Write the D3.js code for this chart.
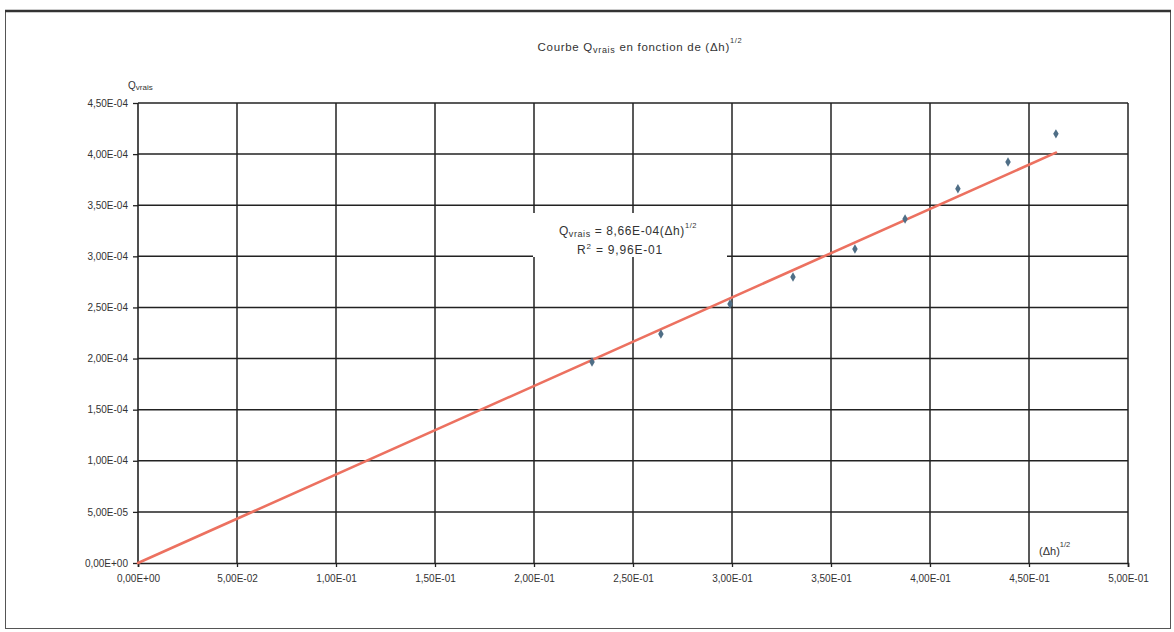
<!DOCTYPE html>
<html>
<head>
<meta charset="utf-8">
<script src="https://cdn.jsdelivr.net/npm/d3@7"></script>
<style>
  html, body { margin: 0; padding: 0; background: #fff; }
  svg { display: block; font-family: "Liberation Sans", Arial, sans-serif; }
</style>
</head>
<body>
<svg id="chart" width="1174" height="632"></svg>
<script>
// Measured points: square root of head difference vs. measured flow
const sqrtDh = [0.2293, 0.2641, 0.2990, 0.3308, 0.3621, 0.3874, 0.4141, 0.4394, 0.4636];
const qVrais = [1.967e-4, 2.241e-4, 2.534e-4, 2.798e-4, 3.072e-4, 3.366e-4, 3.660e-4, 3.924e-4, 4.198e-4];

// Linear fit through the origin
const slope = 8.66e-4;
const r2 = 9.96e-1;

const xTicks = [0, 0.05, 0.10, 0.15, 0.20, 0.25, 0.30, 0.35, 0.40, 0.45, 0.50];
const yTicks = [0, 0.5e-4, 1.0e-4, 1.5e-4, 2.0e-4, 2.5e-4, 3.0e-4, 3.5e-4, 4.0e-4, 4.5e-4];

// Spreadsheet-style scientific notation: 4,50E-04
function sci(v) {
  const [m, e] = v.toExponential(2).split("e");
  const n = parseInt(e, 10);
  const ex = (n < 0 ? "-" : "+") + String(Math.abs(n)).padStart(2, "0");
  return m.replace(".", ",") + "E" + ex;
}

const svg = d3.select("#chart");
const plot = { left: 138, right: 1128, top: 103, bottom: 563 };

const x = d3.scaleLinear().domain([0, 0.5]).range([plot.left, plot.right]);
const y = d3.scaleLinear().domain([0, 4.5e-4]).range([plot.bottom, plot.top]);

// Outer frame
svg.append("rect")
  .attr("x", 5.5).attr("y", 11.5).attr("width", 1165).attr("height", 617)
  .attr("fill", "none").attr("stroke", "#555").attr("stroke-width", 1);
svg.append("line")
  .attr("x1", 5).attr("x2", 1171).attr("y1", 11).attr("y2", 11)
  .attr("stroke", "#333").attr("stroke-width", 2.5);

const ink = "#222";
const textInk = "#333";
const g = svg.append("g");

// Grid
g.append("g").selectAll("line").data(yTicks.slice(1)).join("line")
  .attr("x1", plot.left).attr("x2", plot.right)
  .attr("y1", d => y(d)).attr("y2", d => y(d))
  .attr("stroke", ink).attr("stroke-width", 1.5);
g.append("g").selectAll("line").data(xTicks.slice(1)).join("line")
  .attr("x1", d => x(d)).attr("x2", d => x(d))
  .attr("y1", plot.top).attr("y2", plot.bottom)
  .attr("stroke", ink).attr("stroke-width", 1.5);

// Axes
const xAxis = d3.axisBottom(x).tickValues(xTicks).tickFormat(sci).tickSize(4).tickPadding(8);
const yAxis = d3.axisLeft(y).tickValues(yTicks).tickFormat(sci).tickSize(5).tickPadding(5);

const gx = g.append("g").attr("transform", `translate(0,${plot.bottom})`).call(xAxis);
const gy = g.append("g").attr("transform", `translate(${plot.left},0)`).call(yAxis);
[gx, gy].forEach(a => {
  a.select(".domain").attr("stroke", ink).attr("stroke-width", 1.6);
  a.selectAll(".tick line").attr("stroke", ink).attr("stroke-width", 1.3);
  a.selectAll(".tick text")
    .attr("fill", textInk).style("font-size", "10px");
});
gy.select(".domain").attr("d", `M0,${plot.top}V${plot.bottom}`);

// Fitted line
const xEnd = d3.max(sqrtDh);
g.append("line")
  .attr("x1", x(0)).attr("y1", y(0))
  .attr("x2", x(xEnd)).attr("y2", y(slope * xEnd))
  .attr("stroke", "#ec7160").attr("stroke-width", 2.6).attr("stroke-linecap", "round");

// Data points (small diamonds)
g.append("g").selectAll("path").data(sqrtDh).join("path")
  .attr("transform", (d, i) => `translate(${x(d)},${y(qVrais[i])})`)
  .attr("d", d3.symbol().type(d3.symbolDiamond).size(26))
  .attr("fill", "#4f6e86");

// Equation label on a white box
const boxX = 533, boxY = 213, boxW = 194, boxH = 44;
g.append("rect").attr("x", boxX).attr("y", boxY).attr("width", boxW).attr("height", boxH)
  .attr("fill", "#fff");
const eq = g.append("text").attr("x", boxX + boxW / 2 - 2).attr("y", 235)
  .attr("text-anchor", "middle").attr("fill", textInk)
  .style("font-size", "12px").style("letter-spacing", "0.6px");
eq.append("tspan").text("Q");
eq.append("tspan").text("vrais").style("font-size", "9px").attr("dy", 2);
eq.append("tspan").text(" = " + sci(slope) + "(Δh)").attr("dy", -2);
eq.append("tspan").text("1/2").style("font-size", "7.5px").attr("dy", -7);
const r2t = g.append("text").attr("x", boxX + boxW / 2 - 10).attr("y", 254)
  .attr("text-anchor", "middle").attr("fill", textInk)
  .style("font-size", "12px").style("letter-spacing", "0.8px");
r2t.append("tspan").text("R");
r2t.append("tspan").text("2").style("font-size", "8px").attr("dy", -5);
r2t.append("tspan").text(" = " + sci(r2)).attr("dy", 5);

// Title
const title = svg.append("text").attr("x", 640).attr("y", 51)
  .attr("text-anchor", "middle").attr("fill", textInk)
  .style("font-size", "11.5px").style("letter-spacing", "0.7px");
title.append("tspan").text("Courbe Q");
title.append("tspan").text("vrais").style("font-size", "9px").attr("dy", 2);
title.append("tspan").text(" en fonction de (Δh)").attr("dy", -2);
title.append("tspan").text("1/2").style("font-size", "7.5px").attr("dy", -8);

// Axis names
const yl = svg.append("text").attr("x", 128).attr("y", 89)
  .attr("fill", textInk).style("font-size", "10px");
yl.append("tspan").text("Q");
yl.append("tspan").text("vrais").style("font-size", "8px").attr("dy", 1);

const xl = svg.append("text").attr("x", 1039).attr("y", 555)
  .attr("fill", textInk).style("font-size", "11px");
xl.append("tspan").text("(Δh)");
xl.append("tspan").text("1/2").style("font-size", "7.5px").attr("dy", -8);
</script>
</body>
</html>
